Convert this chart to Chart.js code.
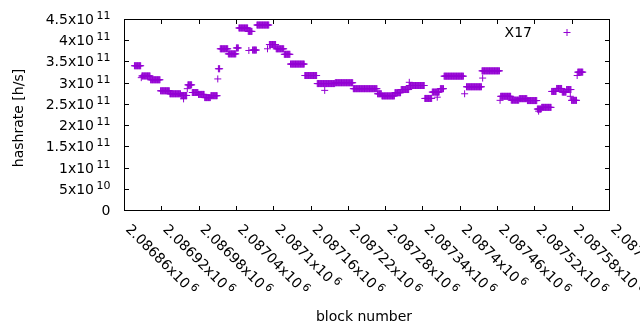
<!DOCTYPE html>
<html>
<head>
<meta charset="utf-8">
<script src="https://cdn.jsdelivr.net/npm/chart.js@4.4.1/dist/chart.umd.min.js"></script>
<style>
  html, body { margin: 0; padding: 0; background: #fff; }
  #wrap { width: 640px; height: 330px; }
</style>
</head>
<body>
<div id="wrap"><canvas id="hashChart" width="640" height="330"></canvas></div>
<script>
// runs of blocks with the same hashrate (GH/s)
const runStart = [2086876, 2086888, 2086902, 2086918, 2086933, 2086951, 2086962, 2086969, 2086979, 2086989,
  2086999, 2087011, 2087014, 2087027, 2087040, 2087044, 2087059, 2087066, 2087073, 2087093,
  2087104, 2087117, 2087127, 2087150, 2087170, 2087199, 2087228, 2087267, 2087274, 2087295,
  2087305, 2087318, 2087343, 2087355, 2087368, 2087374, 2087410, 2087435, 2087465, 2087482,
  2087495, 2087508, 2087524, 2087531, 2087547, 2087555, 2087564, 2087571, 2087579, 2087589];
const runEnd = [2086886, 2086901, 2086917, 2086932, 2086950, 2086960, 2086968, 2086978, 2086988, 2086998,
  2087009, 2087013, 2087026, 2087039, 2087043, 2087058, 2087065, 2087072, 2087092, 2087103,
  2087116, 2087126, 2087149, 2087169, 2087198, 2087227, 2087266, 2087273, 2087294, 2087304,
  2087317, 2087342, 2087354, 2087366, 2087373, 2087405, 2087434, 2087463, 2087481, 2087494,
  2087507, 2087523, 2087530, 2087546, 2087554, 2087563, 2087570, 2087578, 2087587, 2087597];
const runHashrate = [341, 317, 308, 282, 275, 271, 296, 278, 273.5, 266,
  270.5, 334, 381, 369, 383, 430, 422, 378, 437, 391,
  381, 368, 345, 318, 299, 301, 287, 275, 270, 277.5,
  285, 294.5, 264, 279, 287, 316.5, 291.5, 329, 269, 260,
  263.5, 259, 239, 243, 280.5, 287.5, 279, 285, 259.5, 326];

// stray single blocks
const spotBlock = [2086887, 2086955, 2086961, 2087010, 2087060, 2087090, 2087182, 2087318, 2087363,
  2087407, 2087436, 2087464, 2087526, 2087577, 2087588];
const spotHashrate = [313, 263, 287, 310, 377, 381, 283, 302, 267, 275, 312, 259.5, 234, 269, 318];

const xTickValues = [2086860, 2086920, 2086980, 2087040, 2087100, 2087160, 2087220,
  2087280, 2087340, 2087400, 2087460, 2087520, 2087580, 2087640];
const xTickLabels = ["2.08686x10", "2.08692x10", "2.08698x10", "2.08704x10", "2.0871x10", "2.08716x10", "2.08722x10",
  "2.08728x10", "2.08734x10", "2.0874x10", "2.08746x10", "2.08752x10", "2.08758x10", "2.08764x10"];
const xTickExp = "6";

const yTickValues = [0, 50, 100, 150, 200, 250, 300, 350, 400, 450];
const yTickLabels = ["0", "5x10", "1x10", "1.5x10", "2x10", "2.5x10", "3x10", "3.5x10", "4x10", "4.5x10"];
const yTickExp = ["", "10", "11", "11", "11", "11", "11", "11", "11", "11"];

const seriesName = "X17";
const purple = "#9400d3";
const FONT = '"DejaVu Sans", "Liberation Sans", sans-serif';

const points = [];
runStart.forEach((start, i) => {
  for (let b = start; b <= runEnd[i]; b++) {
    points.push({ x: b, y: runHashrate[i] });
  }
});
spotBlock.forEach((b, i) => {
  points.push({ x: b, y: spotHashrate[i] });
});

// gnuplot style frame, mirrored tics, labels with exponents
const gnuplotFrame = {
  id: "gnuplotFrame",
  afterDraw(chart) {
    const ctx = chart.ctx;
    const a = chart.chartArea;
    const xs = chart.scales.x;
    const ys = chart.scales.y;
    const crisp = (p) => Math.round(p - 0.5) + 0.5;
    ctx.save();
    ctx.strokeStyle = "#000";
    ctx.fillStyle = "#000";
    ctx.lineWidth = 1;
    ctx.strokeRect(a.left, a.top, a.right - a.left, a.bottom - a.top);

    ctx.beginPath();
    xTickValues.forEach((v) => {
      const px = crisp(xs.getPixelForValue(v));
      ctx.moveTo(px, a.bottom); ctx.lineTo(px, a.bottom - 4.5);
      ctx.moveTo(px, a.top); ctx.lineTo(px, a.top + 4.5);
    });
    yTickValues.forEach((v) => {
      const py = crisp(ys.getPixelForValue(v));
      ctx.moveTo(a.left, py); ctx.lineTo(a.left + 4.5, py);
      ctx.moveTo(a.right, py); ctx.lineTo(a.right - 4.5, py);
    });
    ctx.stroke();

    // y tick labels
    const right = 110.5;
    yTickValues.forEach((v, i) => {
      const py = ys.getPixelForValue(v);
      ctx.textAlign = "right";
      ctx.textBaseline = "alphabetic";
      let supW = 0;
      if (yTickExp[i]) {
        ctx.font = "11px " + FONT;
        supW = ctx.measureText(yTickExp[i]).width + 2.5;
        ctx.fillText(yTickExp[i], right, py - 0.5);
      }
      ctx.font = "14px " + FONT;
      ctx.fillText(yTickLabels[i], right - supW, py + 4.5);
    });

    // x tick labels, rotated
    xTickValues.forEach((v, i) => {
      const px = xs.getPixelForValue(v);
      ctx.save();
      ctx.translate(px + 0.5, a.bottom + 19.5);
      ctx.rotate(Math.PI / 4);
      ctx.textAlign = "left";
      ctx.textBaseline = "alphabetic";
      ctx.font = "14px " + FONT;
      ctx.fillText(xTickLabels[i], 0, 0);
      const w = ctx.measureText(xTickLabels[i]).width;
      ctx.font = "11px " + FONT;
      ctx.fillText(xTickExp, w + 2.5, -5);
      ctx.restore();
    });

    // axis titles
    ctx.font = "14px " + FONT;
    ctx.textAlign = "center";
    ctx.fillText("block number", 364, 320.5);
    ctx.save();
    ctx.translate(22.5, 118);
    ctx.rotate(-Math.PI / 2);
    ctx.fillText("hashrate [h/s]", 0, 0);
    ctx.restore();

    // key
    ctx.textAlign = "right";
    ctx.fillText(seriesName, 532, 36.5);
    ctx.strokeStyle = purple;
    ctx.beginPath();
    ctx.moveTo(563.5, 32.5); ctx.lineTo(570.5, 32.5);
    ctx.moveTo(567, 29); ctx.lineTo(567, 36);
    ctx.stroke();
    ctx.restore();
  }
};

new Chart(document.getElementById("hashChart"), {
  type: "scatter",
  data: {
    datasets: [{
      label: seriesName,
      data: points,
      pointStyle: "cross",
      pointRadius: 3.5,
      pointHoverRadius: 3.5,
      borderColor: purple,
      backgroundColor: purple,
      borderWidth: 1,
      showLine: false
    }]
  },
  options: {
    responsive: false,
    animation: false,
    events: [],
    layout: { padding: { left: 124.5, top: 19.5, right: 30.5, bottom: 119.5 } },
    plugins: { legend: { display: false }, tooltip: { enabled: false } },
    scales: {
      x: { type: "linear", display: false, min: 2086860, max: 2087640 },
      y: { type: "linear", display: false, min: 0, max: 450 }
    }
  },
  plugins: [gnuplotFrame]
});
</script>
</body>
</html>
